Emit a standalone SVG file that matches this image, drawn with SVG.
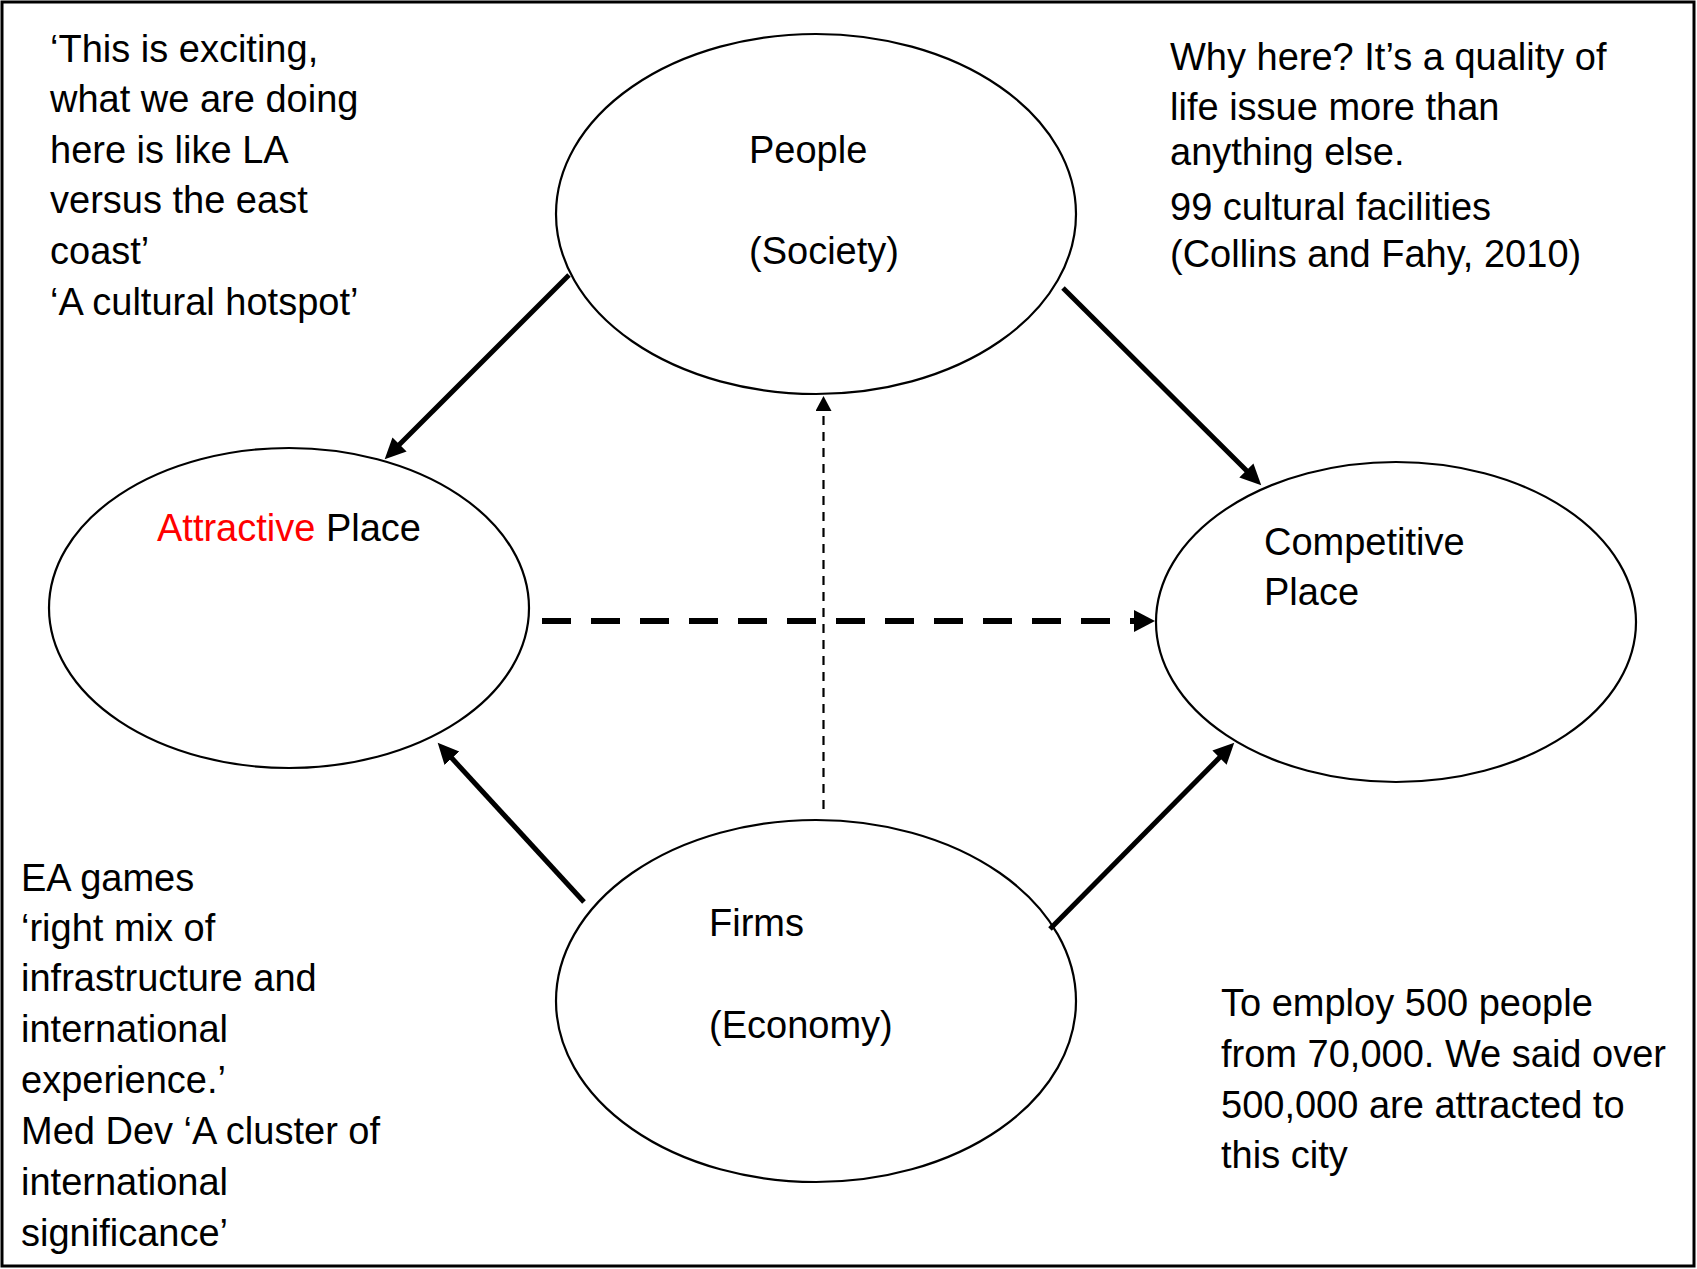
<svg xmlns="http://www.w3.org/2000/svg" width="1697" height="1269" viewBox="0 0 1697 1269">
<style>
  text { font-family: "Liberation Sans", Arial, sans-serif; font-size: 38px; fill: #000; }
  .node { fill: #fff; stroke: #000; stroke-width: 2.2; }
  .thick { stroke: #000; stroke-width: 5; fill: none; }
  .dash { stroke: #000; stroke-width: 6; fill: none; stroke-dasharray: 29 20; }
  .thin { stroke: #000; stroke-width: 2.2; fill: none; stroke-dasharray: 9 7; }
  .red { fill: #ff0000; }
</style>
<defs>
  <marker id="ah" markerUnits="userSpaceOnUse" markerWidth="24" markerHeight="22" refX="4" refY="10" orient="auto">
    <path d="M0,0 L21,10 L0,20 z" fill="#000"/>
  </marker>
  <marker id="ahd" markerUnits="userSpaceOnUse" markerWidth="24" markerHeight="24" refX="2" refY="11" orient="auto">
    <path d="M0,0 L21,11 L0,22 z" fill="#000"/>
  </marker>
  <marker id="ahs" markerUnits="userSpaceOnUse" markerWidth="18" markerHeight="18" refX="2" refY="8" orient="auto">
    <path d="M0,0 L15,8 L0,16 z" fill="#000"/>
  </marker>
</defs>
<rect x="0" y="0" width="1697" height="1269" fill="#fff"/>
<rect x="2" y="2" width="1692" height="1264" fill="none" stroke="#000" stroke-width="3"/>

<g id="node-people">
  <ellipse class="node" cx="816" cy="214" rx="260" ry="180"/>
  <text x="749" y="163">People</text>
  <text x="749" y="264">(Society)</text>
</g>
<g id="node-attractive">
  <ellipse class="node" cx="289" cy="608" rx="240" ry="160"/>
  <text x="157" y="541"><tspan class="red">Attractive</tspan> Place</text>
</g>
<g id="node-competitive">
  <ellipse class="node" cx="1396" cy="622" rx="240" ry="160"/>
  <text x="1264" y="555">Competitive</text>
  <text x="1264" y="605">Place</text>
</g>
<g id="node-firms">
  <ellipse class="node" cx="816" cy="1001" rx="260" ry="181"/>
  <text x="709" y="936">Firms</text>
  <text x="709" y="1038">(Economy)</text>
</g>

<g id="connectors">
  <line class="thick" x1="569" y1="275" x2="396.7" y2="447.3" marker-end="url(#ah)"/>
  <line class="thick" x1="1063" y1="288" x2="1249.2" y2="473.3" marker-end="url(#ah)"/>
  <line class="thick" x1="584" y1="902" x2="449.2" y2="755.3" marker-end="url(#ah)"/>
  <line class="thick" x1="1050" y1="929" x2="1222.3" y2="754.8" marker-end="url(#ah)"/>
  <line class="dash" x1="542" y1="621" x2="1136" y2="621" marker-end="url(#ahd)"/>
  <line class="thin" x1="823.5" y1="809" x2="823.5" y2="409" marker-end="url(#ahs)"/>
</g>

<g id="note-top-left">
  <text x="50" y="62">‘This is exciting,</text>
  <text x="50" y="112">what we are doing</text>
  <text x="50" y="163">here is like LA</text>
  <text x="50" y="213">versus the east</text>
  <text x="50" y="264">coast’</text>
  <text x="50" y="315">‘A cultural hotspot’</text>
</g>
<g id="note-top-right">
  <text x="1170" y="70">Why here? It’s a quality of</text>
  <text x="1170" y="120">life issue more than</text>
  <text x="1170" y="165">anything else.</text>
  <text x="1170" y="220">99 cultural facilities</text>
  <text x="1170" y="267">(Collins and Fahy, 2010)</text>
</g>
<g id="note-bottom-left">
  <text x="21" y="891">EA games</text>
  <text x="21" y="941">‘right mix of</text>
  <text x="21" y="991">infrastructure and</text>
  <text x="21" y="1042">international</text>
  <text x="21" y="1093">experience.’</text>
  <text x="21" y="1144">Med Dev ‘A cluster of</text>
  <text x="21" y="1195">international</text>
  <text x="21" y="1246">significance’</text>
</g>
<g id="note-bottom-right">
  <text x="1221" y="1016">To employ 500 people</text>
  <text x="1221" y="1067">from 70,000. We said over</text>
  <text x="1221" y="1118">500,000 are attracted to</text>
  <text x="1221" y="1168">this city</text>
</g>
</svg>
